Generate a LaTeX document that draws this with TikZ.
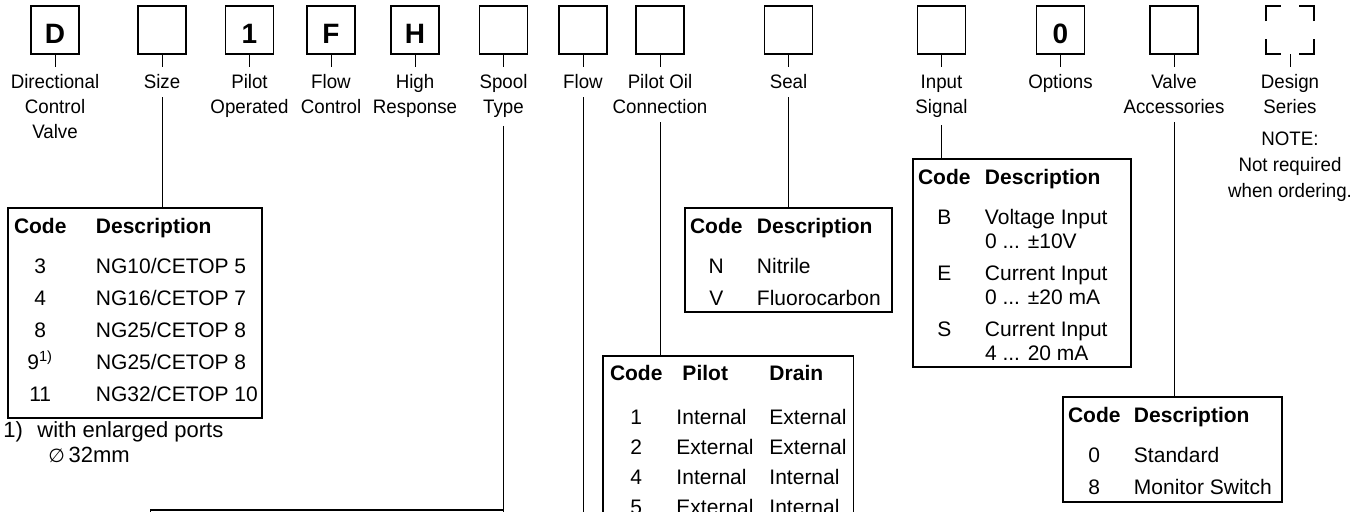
\documentclass[tikz,border=0pt]{standalone}
\usepackage{fontspec}
\setmainfont{Liberation Sans}
\newfontfamily\narrowfont[FakeStretch=0.96]{Liberation Sans}
\newfontfamily\diamfont{DejaVu Sans}
\usetikzlibrary{positioning}

\tikzset{
  codebox/.style={draw, line width=0.8pt, minimum size=24pt, inner sep=0pt, outer sep=0pt,
    text height=13pt, text depth=0pt, font=\bfseries\fontsize{14}{14}\selectfont},
  fieldname/.style={font=\narrowfont\fontsize{9.75}{12.5}\selectfont, align=center,
    inner sep=0pt, outer ysep=4pt},
  lead/.style={line width=0.5pt},
  bracket/.style={line width=1.3pt},
  codetable/.style={draw, line width=0.65pt, inner xsep=0pt, inner ysep=1.5pt, outer sep=0pt,
    anchor=north west, font=\fontsize{10.5}{16}\selectfont}
}

\begin{document}
\begin{tikzpicture}[x=0.5pt,y=-0.5pt]
  \useasboundingbox (0,0) rectangle (1361,511);
  \clip (0,0) rectangle (1361,511);
  % ---- code boxes with their field names ----
  \foreach \bname/\bx/\bchar/\btext in {
      dir/55/D/{Directional\\Control\\Valve},
      size/162//Size,
      pilot/249.5/1/{Pilot\\Operated},
      flowctl/331/F/{Flow\\Control},
      resp/415/H/{High\\Response},
      spool/503.5//{Spool\\Type},
      flow/583//Flow,
      oil/660//{Pilot Oil\\Connection},
      seal/788.5//Seal,
      input/941.5//{Input\\Signal},
      opt/1060.5/0/Options,
      acc/1174//{Valve\\Accessories}}{
    \node[codebox] (\bname) at (\bx,30) {\bchar};
    \node[fieldname, below=6.4pt of \bname] (\bname lbl) {\btext};
    \draw[lead] (\bname) -- (\bname lbl);
  }
  % ---- design series (not ordered) ----
  \node[minimum size=24pt, inner sep=0pt, outer sep=0pt] (design) at (1290,30) {};
  \draw[bracket] (design.north west) ++(0,15) -- (design.north west) -- ++(15,0);
  \draw[bracket] (design.north east) ++(0,15) -- (design.north east) -- ++(-15,0);
  \draw[bracket] (design.south west) ++(0,-15) -- (design.south west) -- ++(15,0);
  \draw[bracket] (design.south east) ++(0,-15) -- (design.south east) -- ++(-15,0);
  \node[fieldname, below=6.4pt of design] (designlbl) {Design\\Series};
  \draw[lead] (design) -- (designlbl);
  \node[fieldname, below=1pt of designlbl, font=\narrowfont\fontsize{9.75}{13}\selectfont]
    (designnote) {NOTE:\\Not required\\when ordering.};
  % ---- size ----
  \node[codetable] (sizetab) at (8,208) {%
    \begin{tabular}{@{\hspace{3pt}}c@{\hspace{14.75pt}}p{83pt}@{}}
      \textbf{Code} & \textbf{Description}\\[4pt]
      3 & NG10/CETOP 5\\
      4 & NG16/CETOP 7\\
      8 & NG25/CETOP 8\\
      9\textsuperscript{1)} & NG25/CETOP 8\\
      11 & NG32/CETOP 10\\[2pt]
    \end{tabular}};
  \draw[lead] (sizelbl) -- (sizelbl |- sizetab.north);
  \node[anchor=north west, align=left, inner sep=0pt, font=\fontsize{11}{12.5}\selectfont]
    (sizenote) at (3,421.5)
    {1)\hspace{7.25pt}with enlarged ports\\
     \hspace*{22.5pt}{\diamfont\fontsize{9.5}{9.5}\selectfont ∅}\,32mm};
  % ---- spool type and flow (continued below) ----
  \node[draw, line width=0.65pt, outer sep=0pt, minimum width=176.5pt, minimum height=30pt,
    anchor=north east] (spooltab) at (503.5,510) {};
  \draw[lead] (spoollbl) -- (spoollbl |- spooltab.north);
  \coordinate (flowend) at (583,540);
  \draw[lead] (flowlbl) -- (flowend);
  % ---- pilot oil connection ----
  \node[codetable, font=\fontsize{10.5}{15}\selectfont] (oiltab) at (603,356) {%
    \begin{tabular}{@{\hspace{3.5pt}}c@{\hspace{7pt}}p{39pt}@{\hspace{7.5pt}}p{42pt}@{}}
      \textbf{Code} & \hspace*{3pt}\textbf{Pilot} & \textbf{Drain}\\[7pt]
      1 & Internal & External\\
      2 & External & External\\
      4 & Internal & Internal\\
      5 & External & Internal\\
    \end{tabular}};
  \draw[lead] (oillbl) -- (oillbl |- oiltab.north);
  % ---- seal ----
  \node[codetable] (sealtab) at (685,208) {%
    \begin{tabular}{@{\hspace{2.5pt}}c@{\hspace{7.25pt}}p{67.5pt}@{}}
      \textbf{Code} & \textbf{Description}\\[4pt]
      N & Nitrile\\
      V & Fluorocarbon\\[-3pt]
    \end{tabular}};
  \draw[lead] (seallbl) -- (seallbl |- sealtab.north);
  % ---- input signal ----
  \node[codetable] (inputtab) at (913,159) {%
    \begin{tabular}{@{\hspace{2.5pt}}c@{\hspace{7.25pt}}p{73pt}@{}}
      \textbf{Code} & \textbf{Description}\\[4pt]
      B & Voltage Input\\[-4pt]
        & 0 ... ±10V\\
      E & Current Input\\[-4pt]
        & 0 ... ±20 mA\\
      S & Current Input\\[-4pt]
        & 4 ... 20 mA\\[-3pt]
    \end{tabular}};
  \draw[lead] (inputlbl) -- (inputlbl |- inputtab.north);
  % ---- valve accessories ----
  \node[codetable] (acctab) at (1063,397) {%
    \begin{tabular}{@{\hspace{2.5pt}}c@{\hspace{6.75pt}}p{74pt}@{}}
      \textbf{Code} & \textbf{Description}\\[4pt]
      0 & Standard\\
      8 & Monitor Switch\\[-2.5pt]
    \end{tabular}};
  \draw[lead] (acclbl) -- (acclbl |- acctab.north);
\end{tikzpicture}
\end{document}
